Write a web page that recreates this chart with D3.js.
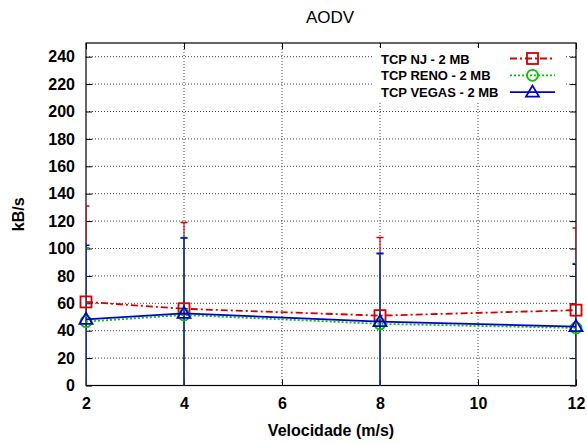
<!DOCTYPE html>
<html>
<head>
<meta charset="utf-8">
<script src="https://cdn.jsdelivr.net/npm/d3@7"></script>
<style>
  html, body { margin: 0; padding: 0; background: #fff; }
  svg { display: block; font-family: "Liberation Sans", Arial, sans-serif; }
</style>
</head>
<body>
<script>
// ---- data ----
const speeds = [2, 4, 8, 12];
const njValues = [61, 56, 51, 55];
const njErrors = [70, 63, 57, 60];
const renoValues = [46.6, 51.5, 45, 42];
const renoErrors = [54, 56.5, 51, 47];
const vegasValues = [48.3, 52.7, 46.6, 43];
const vegasErrors = [54, 55, 50, 45.5];
const seriesNames = ["TCP NJ - 2 MB", "TCP RENO - 2 MB", "TCP VEGAS - 2 MB"];
const yTicks = [0, 20, 40, 60, 80, 100, 120, 140, 160, 180, 200, 220, 240];
const xTicks = [2, 4, 6, 8, 10, 12];

const W = 587, H = 443;
const margin = {left: 86, right: 11, top: 43, bottom: 57.5};
const pw = W - margin.left - margin.right;
const ph = H - margin.top - margin.bottom;

const svg = d3.select("body").append("svg").attr("width", W).attr("height", H);

const x = d3.scaleLinear().domain([2, 12]).range([margin.left, margin.left + pw]);
const y = d3.scaleLinear().domain([0, 250]).range([margin.top + ph, margin.top]);

svg.append("defs").append("clipPath").attr("id", "clip")
  .append("rect").attr("x", margin.left).attr("y", margin.top).attr("width", pw).attr("height", ph);

// grid
const grid = svg.append("g");
grid.selectAll("line.gy").data(yTicks.filter(d => d > 0)).enter().append("line")
  .attr("x1", margin.left).attr("x2", margin.left + pw)
  .attr("y1", d => y(d)).attr("y2", d => y(d))
  .attr("stroke", "#444").attr("stroke-width", 1).attr("stroke-dasharray", "1,2");
grid.selectAll("line.gx").data(xTicks.filter(d => d > 2 && d < 12)).enter().append("line")
  .attr("y1", margin.top).attr("y2", margin.top + ph)
  .attr("x1", d => x(d)).attr("x2", d => x(d))
  .attr("stroke", "#444").attr("stroke-width", 1).attr("stroke-dasharray", "1,2");

// axes with inward ticks, mirrored
const tickLen = 6;
const axL = svg.append("g").attr("transform", `translate(${margin.left},0)`)
  .call(d3.axisLeft(y).tickValues(yTicks).tickSize(-tickLen).tickPadding(11));
const axR = svg.append("g").attr("transform", `translate(${margin.left + pw},0)`)
  .call(d3.axisRight(y).tickValues(yTicks).tickSize(-tickLen).tickFormat(""));
const axB = svg.append("g").attr("transform", `translate(0,${margin.top + ph})`)
  .call(d3.axisBottom(x).tickValues(xTicks).tickSize(-tickLen).tickPadding(12));
const axT = svg.append("g").attr("transform", `translate(0,${margin.top})`)
  .call(d3.axisTop(x).tickValues(xTicks).tickSize(-tickLen).tickFormat(""));
[axL, axR, axB, axT].forEach(a => {
  a.select(".domain").remove();
  a.selectAll("line").attr("stroke", "#000").attr("stroke-width", 1);
  a.selectAll("text").attr("font-size", 16).attr("font-weight", "bold")
    .attr("font-family", "Liberation Sans, Arial, sans-serif").attr("fill", "#000");
});

// frame
svg.append("rect").attr("x", margin.left).attr("y", margin.top).attr("width", pw).attr("height", ph)
  .attr("fill", "none").attr("stroke", "#000").attr("stroke-width", 1.2);

// series
const colors = ["#d40000", "#00c800", "#0000d0"];
const dashes = ["7,3,2,3", "2,2", null];
const allValues = [njValues, renoValues, vegasValues];
const allErrors = [njErrors, renoErrors, vegasErrors];

function drawMarker(g, kind, cx, cy, color) {
  if (kind === 0) {
    g.append("rect").attr("x", cx - 5.5).attr("y", cy - 5.5).attr("width", 11).attr("height", 11)
      .attr("fill", "none").attr("stroke", color).attr("stroke-width", 1.8);
  } else if (kind === 1) {
    g.append("circle").attr("cx", cx).attr("cy", cy).attr("r", 5.5)
      .attr("fill", "none").attr("stroke", color).attr("stroke-width", 1.8);
  } else {
    g.append("path").attr("d", `M${cx},${cy - 6.5}L${cx + 6.5},${cy + 4.5}L${cx - 6.5},${cy + 4.5}Z`)
      .attr("fill", "none").attr("stroke", color).attr("stroke-width", 1.8);
  }
}

const plotG = svg.append("g").attr("clip-path", "url(#clip)");
// error bars
allValues.forEach((vals, si) => {
  const g = plotG.append("g");
  vals.forEach((v, i) => {
    const e = allErrors[si][i];
    const cx = x(speeds[i]);
    g.append("line").attr("x1", cx).attr("x2", cx).attr("y1", y(v - e)).attr("y2", y(v + e))
      .attr("stroke", colors[si]).attr("stroke-width", 1.5).attr("stroke-opacity", 0.75);
    [v - e, v + e].forEach(b => {
      g.append("line").attr("x1", cx - 3.5).attr("x2", cx + 3.5).attr("y1", y(b)).attr("y2", y(b))
        .attr("stroke", colors[si]).attr("stroke-width", 1.5);
    });
  });
});

const topG = svg.append("g");
allValues.forEach((vals, si) => {
  const line = d3.line().x((d, i) => x(speeds[i])).y(d => y(d));
  const p = topG.append("path").datum(vals).attr("d", line)
    .attr("fill", "none").attr("stroke", colors[si]).attr("stroke-width", 1.8);
  if (dashes[si]) p.attr("stroke-dasharray", dashes[si]);
  vals.forEach((v, i) => drawMarker(topG, si, x(speeds[i]), y(v), colors[si]));
});

// legend
const leg = svg.append("g");
leg.append("rect").attr("x", 372).attr("y", 48).attr("width", 193).attr("height", 53).attr("fill", "#fff");
seriesNames.forEach((name, si) => {
  const ly = 58.5 + si * 16.8;
  leg.append("text").attr("x", 381).attr("y", ly + 5).text(name)
    .attr("font-size", 13).attr("font-weight", "bold").attr("fill", "#000");
  const l = leg.append("line").attr("x1", 510).attr("x2", 555).attr("y1", ly).attr("y2", ly)
    .attr("stroke", colors[si]).attr("stroke-width", 1.8);
  if (dashes[si]) l.attr("stroke-dasharray", dashes[si]);
  drawMarker(leg, si, 532.5, ly, colors[si]);
});

// titles
svg.append("text").attr("x", 330).attr("y", 22.5).attr("text-anchor", "middle")
  .attr("font-size", 17).attr("fill", "#000").text("AODV");
svg.append("text").attr("x", 331).attr("y", 436).attr("text-anchor", "middle")
  .attr("font-size", 16).attr("font-weight", "bold").attr("fill", "#000").text("Velocidade (m/s)");
svg.append("text").attr("transform", `translate(24,${margin.top + ph / 2}) rotate(-90)`)
  .attr("text-anchor", "middle").attr("font-size", 16).attr("font-weight", "bold").attr("fill", "#000").text("kB/s");
</script>
</body>
</html>
